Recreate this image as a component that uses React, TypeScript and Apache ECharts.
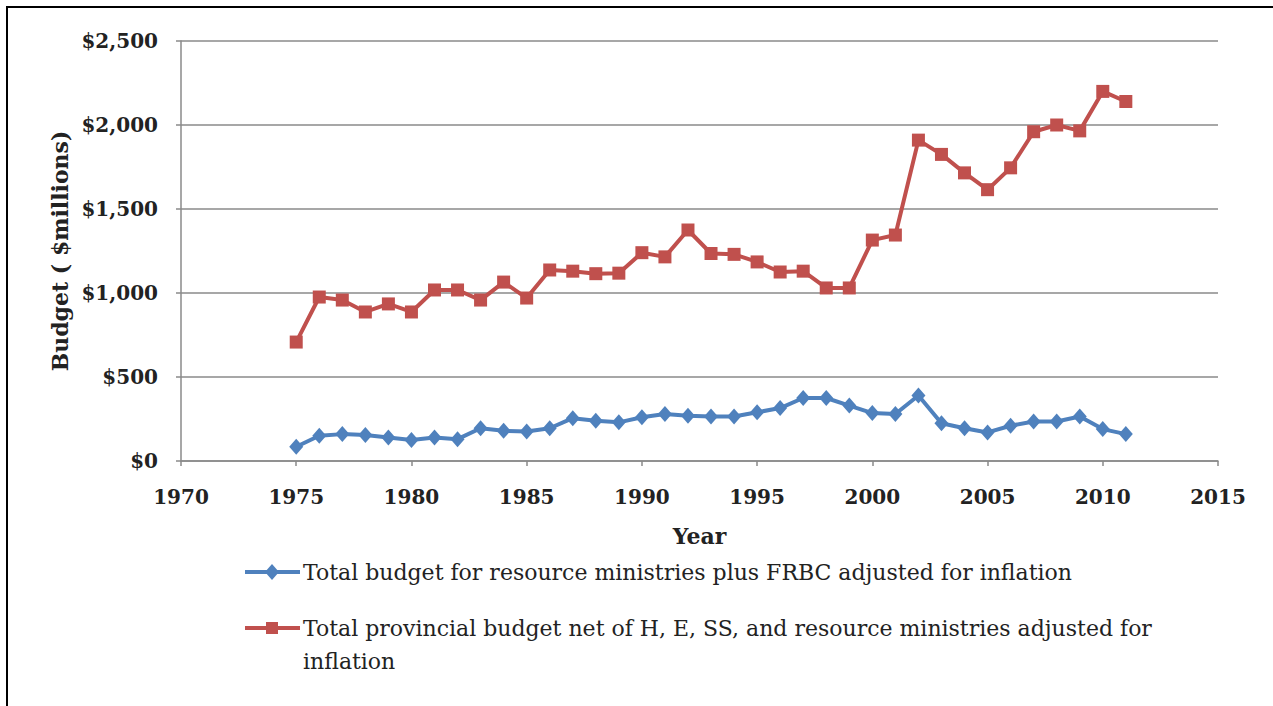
import React, { useEffect, useRef } from "react";
import * as echarts from "echarts";

const years = [
  1975, 1976, 1977, 1978, 1979, 1980, 1981, 1982, 1983, 1984, 1985, 1986, 1987,
  1988, 1989, 1990, 1991, 1992, 1993, 1994, 1995, 1996, 1997, 1998, 1999, 2000,
  2001, 2002, 2003, 2004, 2005, 2006, 2007, 2008, 2009, 2010, 2011,
];

const resourceBudget = [
  85, 150, 160, 155, 140, 125, 140, 130, 195, 180, 175, 195, 255, 240, 230, 260,
  280, 270, 265, 265, 290, 315, 375, 375, 330, 285, 280, 390, 225, 195, 170, 210,
  235, 235, 265, 190, 160,
];

const provincialBudget = [
  708, 976, 958, 887, 935, 887, 1018, 1018, 958, 1065, 970, 1137, 1130, 1115,
  1118, 1240, 1215, 1375, 1235, 1230, 1185, 1125, 1130, 1030, 1030, 1315, 1345,
  1910, 1825, 1715, 1615, 1745, 1960, 2000, 1965, 2200, 2140,
];

const seriesNames = [
  "Total budget for resource ministries plus FRBC adjusted for inflation",
  "Total provincial budget net of H, E, SS, and resource ministries adjusted for inflation",
];
const seriesColors = ["#4F81BD", "#C0504D"];

const xAxisTitle = "Year";
const yAxisTitle = "Budget ( $millions)";

const FONT = "DejaVu Serif";

export default function App() {
  const ref = useRef<HTMLDivElement>(null);

  useEffect(() => {
    if (!ref.current) return;
    const chart = echarts.init(ref.current, null, { renderer: "svg" });

    const legendX = 245;
    const legendY = [572, 628];

    const legendGraphics: any[] = [];
    seriesNames.forEach((name, i) => {
      const cy = legendY[i];
      legendGraphics.push({
        type: "line",
        shape: { x1: legendX, y1: cy, x2: legendX + 55, y2: cy },
        style: { stroke: seriesColors[i], lineWidth: 4 },
      });
      if (i === 0) {
        legendGraphics.push({
          type: "polygon",
          shape: {
            points: [
              [legendX + 27, cy - 8],
              [legendX + 34, cy],
              [legendX + 27, cy + 8],
              [legendX + 20, cy],
            ],
          },
          style: { fill: seriesColors[i] },
        });
      } else {
        legendGraphics.push({
          type: "rect",
          shape: { x: legendX + 21, y: cy - 6, width: 12, height: 12 },
          style: { fill: seriesColors[i] },
        });
      }
      legendGraphics.push({
        type: "text",
        x: legendX + 58,
        y: cy - 16.5,
        style: {
          text: name,
          fontFamily: FONT,
          fontSize: 22,
          fill: "#222",
          lineHeight: 33,
          verticalAlign: "top",
          width: 920,
          overflow: "break",
        },
      });
    });

    chart.setOption({
      animation: false,
      backgroundColor: "#fff",
      grid: { left: 181, right: 55, top: 41, bottom: 245 },
      xAxis: {
        type: "value",
        min: 1970,
        max: 2015,
        interval: 5,
        name: xAxisTitle,
        nameLocation: "middle",
        nameGap: 64,
        nameTextStyle: {
          fontFamily: FONT,
          fontSize: 22,
          fontWeight: "bold",
          color: "#222",
        },
        axisLine: { show: true, lineStyle: { color: "#8a8a8a", width: 1.5 } },
        axisTick: { show: true, length: 5, lineStyle: { color: "#8a8a8a", width: 1.5 } },
        axisLabel: {
          margin: 26,
          fontFamily: FONT,
          fontSize: 20,
          fontWeight: "bold",
          color: "#222",
          formatter: (v: number) => String(v),
        },
        splitLine: { show: false },
      },
      yAxis: {
        type: "value",
        min: 0,
        max: 2500,
        interval: 500,
        name: yAxisTitle,
        nameLocation: "middle",
        nameGap: 110,
        nameTextStyle: {
          fontFamily: FONT,
          fontSize: 22,
          fontWeight: "bold",
          color: "#222",
        },
        axisLine: { show: true, lineStyle: { color: "#8a8a8a", width: 1.5 } },
        axisTick: { show: true, length: 5, lineStyle: { color: "#8a8a8a", width: 1.5 } },
        axisLabel: {
          margin: 23,
          fontFamily: FONT,
          fontSize: 20,
          fontWeight: "bold",
          color: "#222",
          formatter: (v: number) => "$" + v.toLocaleString("en-US"),
        },
        splitLine: { show: true, lineStyle: { color: "#8a8a8a", width: 1.5 } },
      },
      series: [
        {
          name: seriesNames[0],
          type: "line",
          data: years.map((y, i) => [y, resourceBudget[i]]),
          symbol: "diamond",
          symbolSize: [14, 16],
          lineStyle: { color: seriesColors[0], width: 4 },
          itemStyle: { color: seriesColors[0] },
          z: 3,
        },
        {
          name: seriesNames[1],
          type: "line",
          data: years.map((y, i) => [y, provincialBudget[i]]),
          symbol: "rect",
          symbolSize: 13,
          lineStyle: { color: seriesColors[1], width: 4 },
          itemStyle: { color: seriesColors[1] },
          z: 3,
        },
      ],
      graphic: [
        {
          type: "polyline",
          shape: { points: [[7, 706], [7, 7], [1273, 7]] },
          style: { stroke: "#000", lineWidth: 2, fill: null },
        },
        ...legendGraphics,
      ],
    });

    return () => chart.dispose();
  }, []);

  return (
    <div
      ref={ref}
      style={{ position: "fixed", left: 0, top: 0, width: 1273, height: 706 }}
    />
  );
}
